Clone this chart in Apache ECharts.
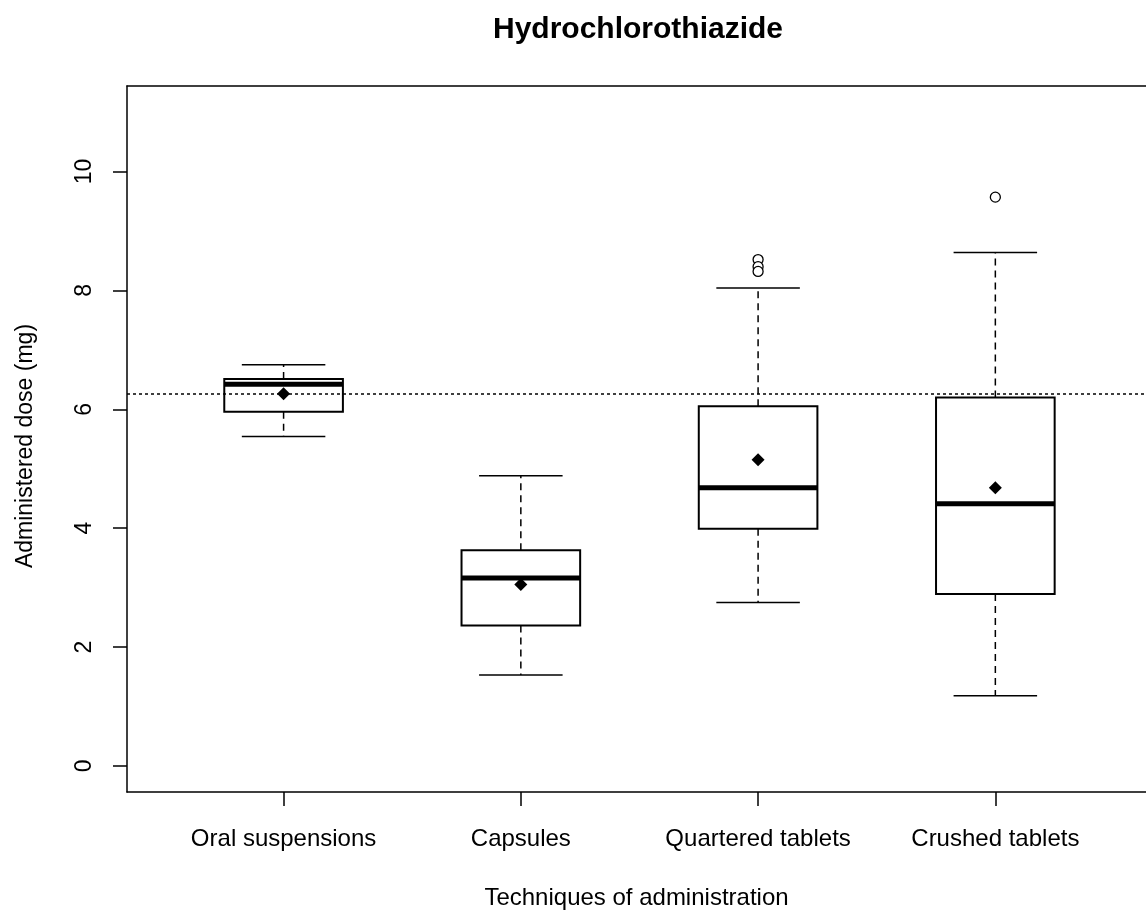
<!DOCTYPE html>
<html>
<head>
    <meta charset="UTF-8">
    <title>Hydrochlorothiazide</title>
    <script type="text/javascript" src="https://cdn.jsdelivr.net/npm/echarts@6/dist/echarts.min.js"></script>
    <style>
        html, body { margin: 0; padding: 0; background: #fff; }
    </style>
</head>
<body>
<div id="main" style="width: 1146px;height:911px;"></div>
<script type="text/javascript">
    // categories and box statistics (mg)
    var categories = ['Oral suspensions', 'Capsules', 'Quartered tablets', 'Crushed tablets'];
    var positions = [1, 2, 3, 4];
    var whiskerLow = [5.54, 1.53, 2.75, 1.18];
    var q1 = [5.96, 2.36, 3.99, 2.89];
    var median = [6.42, 3.16, 4.68, 4.41];
    var q3 = [6.51, 3.63, 6.05, 6.20];
    var whiskerHigh = [6.75, 4.88, 8.04, 8.64];
    var means = [6.26, 3.05, 5.15, 4.68];
    // outliers: [position, value]
    var outliers = [[3, 8.52], [3, 8.40], [3, 8.32], [4, 9.57]];
    var refLine = 6.26;
    var yTicks = [0, 2, 4, 6, 8, 10];

    var boxData = [];
    for (var i = 0; i < positions.length; i++) {
        boxData.push([positions[i], whiskerLow[i], q1[i], median[i], q3[i], whiskerHigh[i]]);
    }
    var meanData = [];
    for (var i = 0; i < positions.length; i++) {
        meanData.push([positions[i], means[i]]);
    }

    var myChart = echarts.init(document.getElementById('main'));
    var font = '"Liberation Sans", Arial, sans-serif';

    function renderBox(params, api) {
        var x = api.value(0);
        var pLo = api.coord([x, api.value(1)]);
        var pQ1 = api.coord([x, api.value(2)]);
        var pMed = api.coord([x, api.value(3)]);
        var pQ3 = api.coord([x, api.value(4)]);
        var pHi = api.coord([x, api.value(5)]);
        var half = api.size([0.25, 0])[0];     // box half width
        var cap = api.size([0.176, 0])[0];     // staple half width
        var cx = pMed[0];
        var thin = {stroke: '#000', lineWidth: 1.5};
        var dashed = {stroke: '#000', lineWidth: 1.5, lineDash: [7, 5]};
        return {
            type: 'group',
            children: [
                {type: 'line', shape: {x1: cx, y1: pQ3[1], x2: cx, y2: pHi[1]}, style: dashed},
                {type: 'line', shape: {x1: cx, y1: pQ1[1], x2: cx, y2: pLo[1]}, style: dashed},
                {type: 'line', shape: {x1: cx - cap, y1: pHi[1], x2: cx + cap, y2: pHi[1]}, style: thin},
                {type: 'line', shape: {x1: cx - cap, y1: pLo[1], x2: cx + cap, y2: pLo[1]}, style: thin},
                {type: 'rect', shape: {x: cx - half, y: pQ3[1], width: half * 2, height: pQ1[1] - pQ3[1]},
                    style: {fill: '#fff', stroke: '#000', lineWidth: 2}},
                {type: 'line', shape: {x1: cx - half, y1: pMed[1], x2: cx + half, y2: pMed[1]},
                    style: {stroke: '#000', lineWidth: 5}}
            ]
        };
    }

    var option = {
        animation: false,
        backgroundColor: '#fff',
        title: {
            text: 'Hydrochlorothiazide',
            left: 633,
            textAlign: 'center',
            top: 10,
            textStyle: {fontFamily: font, fontSize: 30, fontWeight: 'bold', color: '#000'}
        },
        // the plot region runs past the right edge of the picture
        grid: {
            left: 127, right: 0, top: 86, bottom: 119,
            outerBoundsMode: 'none'
        },
        xAxis: [
            {
                type: 'value',
                min: 0.34,
                max: 4.635,
                name: 'Techniques of administration',
                nameLocation: 'middle',
                nameGap: 94,
                nameTextStyle: {fontFamily: font, fontSize: 24, color: '#000'},
                axisLine: {show: true, onZero: false, lineStyle: {color: '#000', width: 1.5}},
                axisTick: {show: true, length: 14, lineStyle: {color: '#000', width: 1.5}, customValues: positions},
                axisLabel: {
                    customValues: positions,
                    margin: 35,
                    fontFamily: font, fontSize: 24, color: '#000',
                    formatter: function (v) { return categories[Math.round(v) - 1]; }
                },
                splitLine: {show: false}
            },
            {
                type: 'value',
                position: 'top',
                min: 0.34,
                max: 4.635,
                axisLine: {show: true, onZero: false, lineStyle: {color: '#000', width: 1.5}},
                axisTick: {show: false},
                axisLabel: {show: false},
                splitLine: {show: false}
            }
        ],
        yAxis: {
            type: 'value',
            min: -0.44,
            max: 11.44,
            name: 'Administered dose (mg)',
            nameLocation: 'middle',
            nameRotate: 90,
            nameGap: 90,
            nameTextStyle: {fontFamily: font, fontSize: 23, color: '#000', padding: [0, 14, 0, 0]},
            axisLine: {show: true, onZero: false, lineStyle: {color: '#000', width: 1.5}},
            axisTick: {show: true, length: 14, lineStyle: {color: '#000', width: 1.5}, customValues: yTicks},
            axisLabel: {
                customValues: yTicks,
                rotate: 90,
                margin: 31,
                fontFamily: font, fontSize: 23, color: '#000'
            },
            splitLine: {show: false}
        },
        series: [
            {
                type: 'custom',
                renderItem: renderBox,
                data: boxData,
                z: 2,
                markLine: {
                    silent: true,
                    symbol: 'none',
                    label: {show: false},
                    lineStyle: {color: '#000', type: [3, 3], width: 1.5},
                    data: [{yAxis: refLine}]
                }
            },
            {
                type: 'scatter',
                data: meanData,
                symbol: 'diamond',
                symbolSize: 13,
                itemStyle: {color: '#000', opacity: 1},
                z: 5
            },
            {
                type: 'scatter',
                data: outliers,
                symbol: 'circle',
                symbolSize: 10,
                itemStyle: {color: '#fff', borderColor: '#000', borderWidth: 1.3, opacity: 1},
                z: 5
            }
        ]
    };

    myChart.setOption(option);
</script>
</body>
</html>
